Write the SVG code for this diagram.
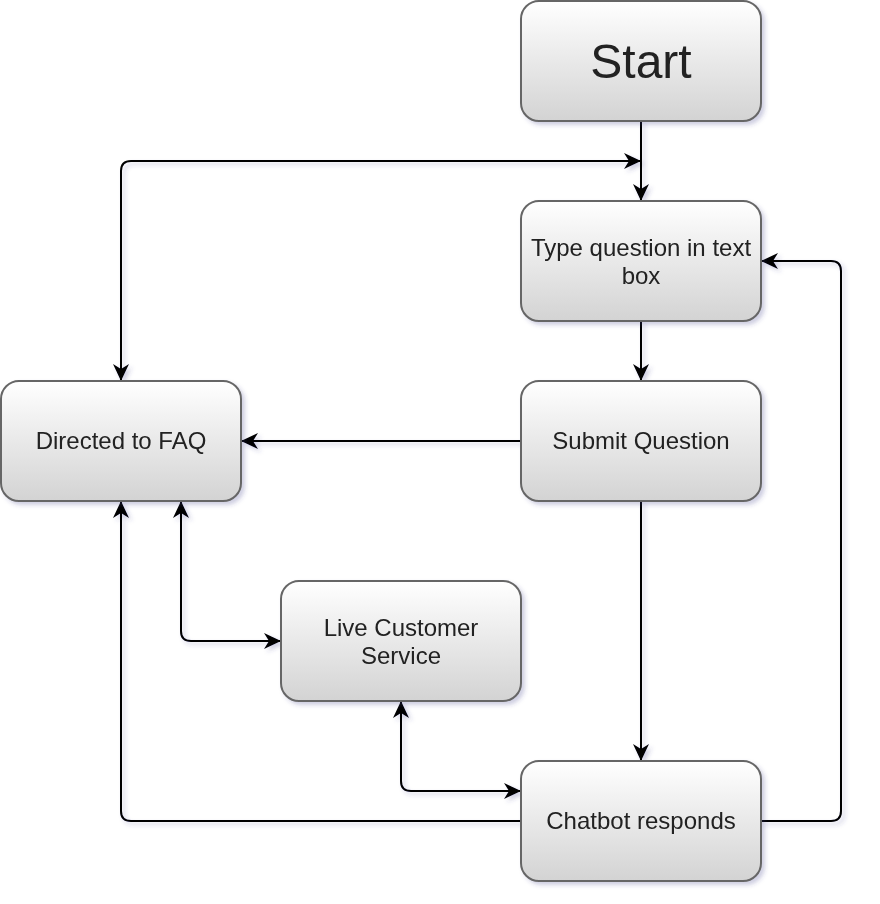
<svg xmlns="http://www.w3.org/2000/svg" width="880" height="904" viewBox="0 0 880 904">
<defs>
<linearGradient id="g" x1="0" y1="0" x2="0" y2="1">
<stop offset="0" stop-color="#ffffff"/>
<stop offset="1" stop-color="#d3d3d3"/>
</linearGradient>
<filter id="sh" x="-10%" y="-10%" width="130%" height="130%">
<feDropShadow dx="3" dy="3" stdDeviation="2" flood-color="#3a3a8a" flood-opacity="0.25"/>
</filter>
<marker id="ar" markerUnits="userSpaceOnUse" markerWidth="20" markerHeight="20" refX="17" refY="8" orient="auto-start-reverse" viewBox="0 0 20 20">
<path d="M0,0 L17,8 L0,16 L5,8 Z" fill="#000"/>
</marker>
</defs>
<style>
.box{fill:url(#g);stroke:#666666;stroke-width:2}
.t{font-family:"Liberation Sans",Arial,sans-serif;font-size:24px;fill:#222222;text-anchor:middle}
.c{fill:none;stroke:#000000;stroke-width:2}
</style>
<rect width="880" height="904" fill="#ffffff"/>
<g id="connectors" filter="url(#sh)">
<path class="c" d="M641,121 L641,201" marker-end="url(#ar)"/>
<path class="c" d="M121,381 L121,171 Q121,161 131,161 L641,161" marker-start="url(#ar)" marker-end="url(#ar)"/>
<path class="c" d="M641,321 L641,381" marker-end="url(#ar)"/>
<path class="c" d="M521,441 L241,441" marker-end="url(#ar)"/>
<path class="c" d="M641,501 L641,761" marker-end="url(#ar)"/>
<path class="c" d="M521,821 L131,821 Q121,821 121,811 L121,501" marker-end="url(#ar)"/>
<path class="c" d="M181,501 L181,631 Q181,641 191,641 L281,641" marker-start="url(#ar)" marker-end="url(#ar)"/>
<path class="c" d="M401,701 L401,781 Q401,791 411,791 L521,791" marker-start="url(#ar)" marker-end="url(#ar)"/>
<path class="c" d="M761,821 L831,821 Q841,821 841,811 L841,271 Q841,261 831,261 L761,261" marker-end="url(#ar)"/>
</g>
<g id="start" filter="url(#sh)">
<rect class="box" x="521" y="1" width="240" height="120" rx="18"/>
<text class="t" x="641" y="78" style="font-size:48px">Start</text>
</g>
<g id="type-question" filter="url(#sh)">
<rect class="box" x="521" y="201" width="240" height="120" rx="18"/>
<text class="t" x="641" y="256">Type question in text</text>
<text class="t" x="641" y="284">box</text>
</g>
<g id="submit-question" filter="url(#sh)">
<rect class="box" x="521" y="381" width="240" height="120" rx="18"/>
<text class="t" x="641" y="449">Submit Question</text>
</g>
<g id="faq" filter="url(#sh)">
<rect class="box" x="1" y="381" width="240" height="120" rx="18"/>
<text class="t" x="121" y="449">Directed to FAQ</text>
</g>
<g id="live-service" filter="url(#sh)">
<rect class="box" x="281" y="581" width="240" height="120" rx="18"/>
<text class="t" x="401" y="636">Live Customer</text>
<text class="t" x="401" y="664">Service</text>
</g>
<g id="chatbot" filter="url(#sh)">
<rect class="box" x="521" y="761" width="240" height="120" rx="18"/>
<text class="t" x="641" y="829">Chatbot responds</text>
</g>
</svg>
